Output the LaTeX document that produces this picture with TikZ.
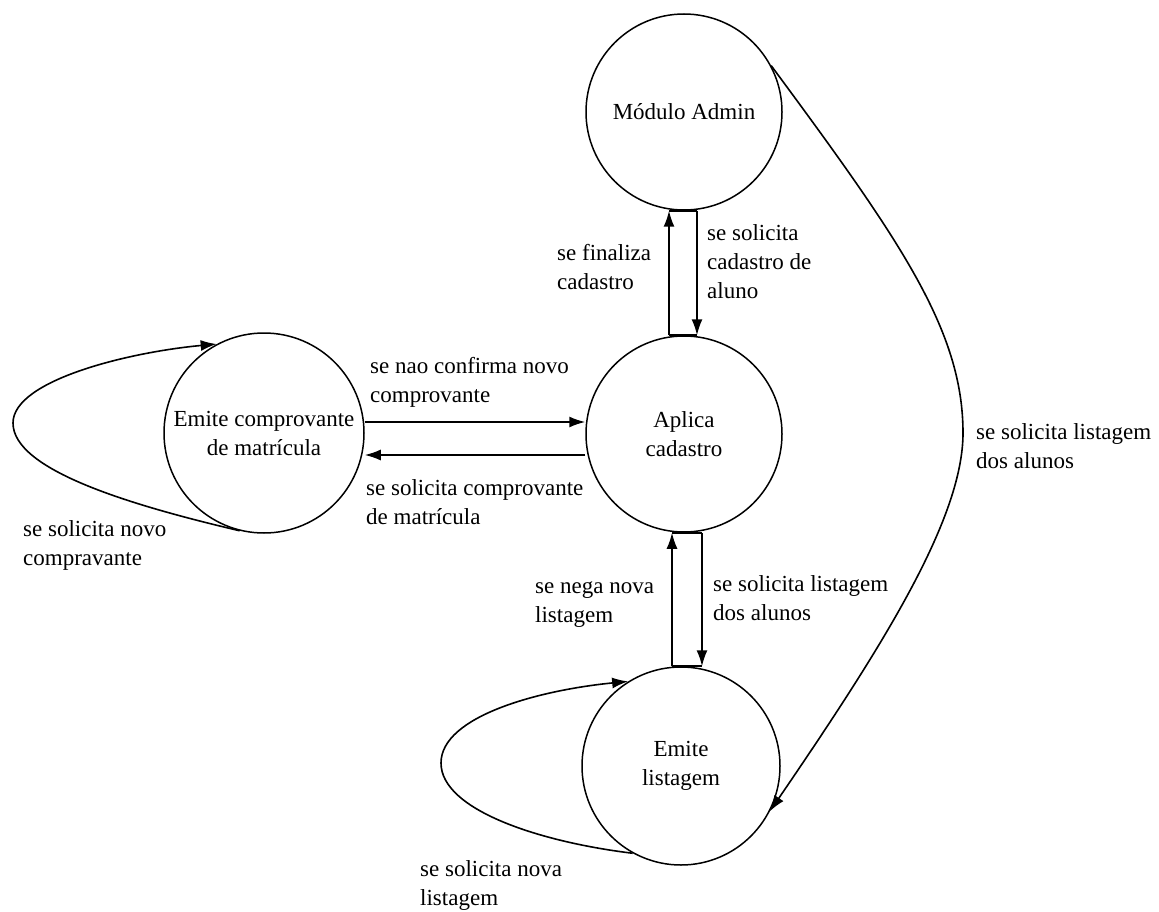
\documentclass[tikz,border=0pt]{standalone}
\usepackage{fontspec}
\setmainfont{Liberation Serif}
\usetikzlibrary{arrows.meta,calc}
\begin{document}
\begin{tikzpicture}[x=1pt,y=-1pt,
  every node/.style={font=\fontsize{23}{29}\selectfont},
  state/.style={draw,circle,line width=1.5pt,inner sep=0pt,align=center},
  conn/.style={line width=1.6pt,-{Latex[length=16pt,width=11pt]}},
  bar/.style={line width=1.6pt},
  lbl/.style={anchor=west,align=left,inner sep=0pt}]
\fill[white] (0,0) rectangle (1159,912);
\useasboundingbox (0,0) rectangle (1159,912);

% states
\node[state,minimum size=196pt] (admin)  at (684,112) {Módulo Admin};
\node[state,minimum size=196pt] (aplica) at (684,434) {Aplica\\cadastro};
\node[state,minimum size=200pt] (comp)   at (264,433) {Emite comprovante\\de matrícula};
\node[state,minimum size=198pt] (lista)  at (681,766) {Emite\\listagem};

% admin <-> aplica
\coordinate (u1) at ($(admin.south)+(-15,0)$);
\coordinate (u2) at ($(admin.south)+(13,0)$);
\draw[conn] (u1 |- aplica.north) -- (u1);
\draw[conn] (u2) -- (u2 |- aplica.north);
\draw[bar] (u1) -- (u2);
\draw[bar] (u1 |- aplica.north) -- (u2 |- aplica.north);

% aplica <-> lista
\coordinate (d1) at ($(aplica.south)+(-12,0)$);
\coordinate (d2) at ($(aplica.south)+(18,0)$);
\draw[conn] (d1 |- lista.north) -- (d1);
\draw[conn] (d2) -- (d2 |- lista.north);
\draw[bar] (d1) -- (d2);
\draw[bar] (d1 |- lista.north) -- (d2 |- lista.north);

% comp <-> aplica
\coordinate (h1) at ($(comp.east)+(0,-11)$);
\coordinate (h2) at ($(comp.east)+(0,22)$);
\draw[conn] (h1) -- (h1 -| aplica.west);
\draw[conn] (h2 -| aplica.west) -- (h2);

% self loops
\draw[conn] (comp.-104) .. controls (130,505) and (13,470) .. (13,423)
  .. controls (13,380) and (130,352) .. (comp.118);
\draw[conn] (lista.-119) .. controls (540,842) and (441,810) .. (441,763)
  .. controls (441,716) and (540,690) .. (lista.122);

% admin -> lista
\draw[conn] (admin.28) .. controls (900,240) and (963,330) .. (963,433)
  .. controls (963,520) and (880,650) .. (lista.-27);

% labels
\node[lbl] (l1) at (557,267) {se finaliza\\cadastro};
\node[lbl] (l2) at (707,262) {se solicita\\cadastro de\\aluno};
\node[lbl] (l3) at (370,382) {se nao confirma novo\\comprovante};
\node[lbl] (l4) at (366,502) {se solicita comprovante\\de matrícula};
\node[lbl] (l5) at (23,545) {se solicita novo\\compravante};
\node[lbl] (l6) at (535,605) {se nega nova\\listagem};
\node[lbl] (l7) at (713,598) {se solicita listagem\\dos alunos};
\node[lbl] (l8) at (420,885) {se solicita nova\\listagem};
\node[lbl] (l9) at (976,446) {se solicita listagem\\dos alunos};
\end{tikzpicture}
\end{document}
